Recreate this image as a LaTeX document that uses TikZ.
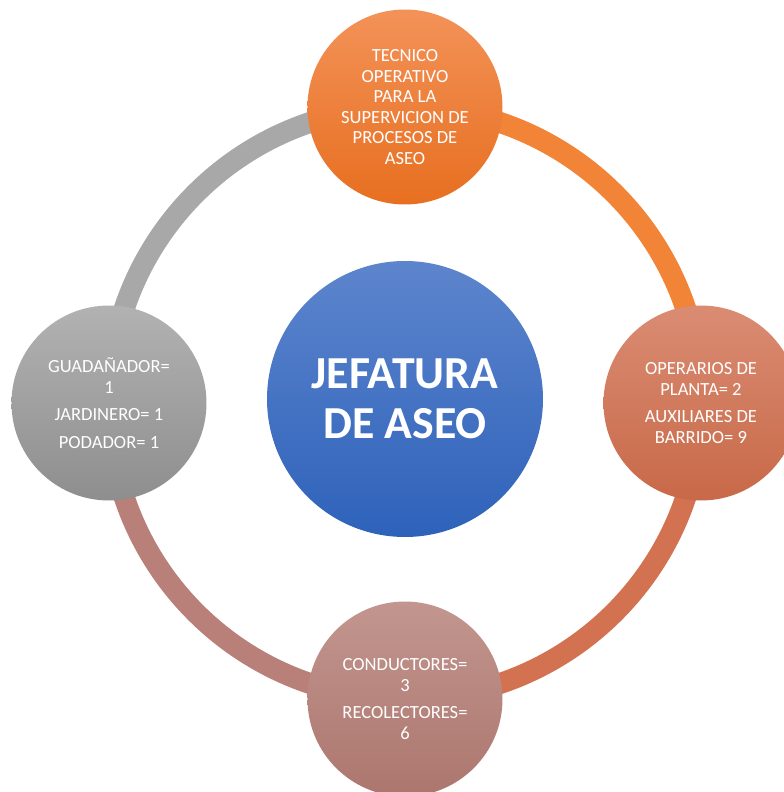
\documentclass[tikz,border=0pt]{standalone}
\usepackage{fontspec}
\setmainfont{Carlito}
\usepackage{xcolor}
\usepackage{tikz}
\usetikzlibrary{positioning,backgrounds}

\definecolor{hubtop}{RGB}{93,133,205}
\definecolor{hubbot}{RGB}{46,98,186}
\definecolor{tectop}{RGB}{243,146,88}
\definecolor{tecbot}{RGB}{231,111,32}
\definecolor{optop}{RGB}{218,140,115}
\definecolor{opbot}{RGB}{200,105,72}
\definecolor{contop}{RGB}{194,150,143}
\definecolor{conbot}{RGB}{172,118,110}
\definecolor{guatop}{RGB}{178,178,178}
\definecolor{guabot}{RGB}{142,142,142}
\definecolor{ringgray}{RGB}{168,168,168}
\definecolor{ringorange}{RGB}{242,132,56}
\definecolor{ringbrown}{RGB}{211,114,80}
\definecolor{ringpink}{RGB}{184,128,120}

\begin{document}
\begin{tikzpicture}[
    hub/.style={circle, inner sep=0pt, minimum size=6.9cm, text=white, align=center, font=\bfseries\fontsize{32.6}{35.8}\selectfont, top color=hubtop, bottom color=hubbot},
    sat/.style={circle, inner sep=0pt, minimum size=4.875cm, text=white, align=center, font=\fontsize{13.2}{14.6}\selectfont},
    ring/.style={line width=0.525cm}
]
\useasboundingbox (-10.125,-9.725) rectangle (9.475,10.075);

% Nodes
\node[hub] (jefatura) at (0,0.1) {JEFATURA\\DE ASEO};
\node[sat, top color=tectop, bottom color=tecbot] (tecnico) at (90:7.4) {TECNICO\\OPERATIVO\\PARA LA\\SUPERVICION DE\\PROCESOS DE\\ASEO};
\node[sat, top color=optop, bottom color=opbot] (operarios) at (0:7.4) {OPERARIOS DE\\PLANTA= 2\\[5pt]AUXILIARES DE\\BARRIDO= 9};
\node[sat, top color=contop, bottom color=conbot] (conductores) at (-90:7.4) {CONDUCTORES=\\3\\[5pt]RECOLECTORES=\\6};
\node[sat, top color=guatop, bottom color=guabot] (guadanador) at (180:7.4) {GUADAÑADOR=\\1\\[5pt]JARDINERO= 1\\[5pt]PODADOR= 1};

% Ring
\begin{pgfonlayer}{background}
\draw[ring, ringgray] (guadanador.center) to[out=90, in=180] (tecnico.center);
\draw[ring, ringorange] (tecnico.center) to[out=0, in=90] (operarios.center);
\draw[ring, ringbrown] (operarios.center) to[out=-90, in=0] (conductores.center);
\draw[ring, ringpink] (conductores.center) to[out=180, in=-90] (guadanador.center);
\end{pgfonlayer}

\end{tikzpicture}
\end{document}
